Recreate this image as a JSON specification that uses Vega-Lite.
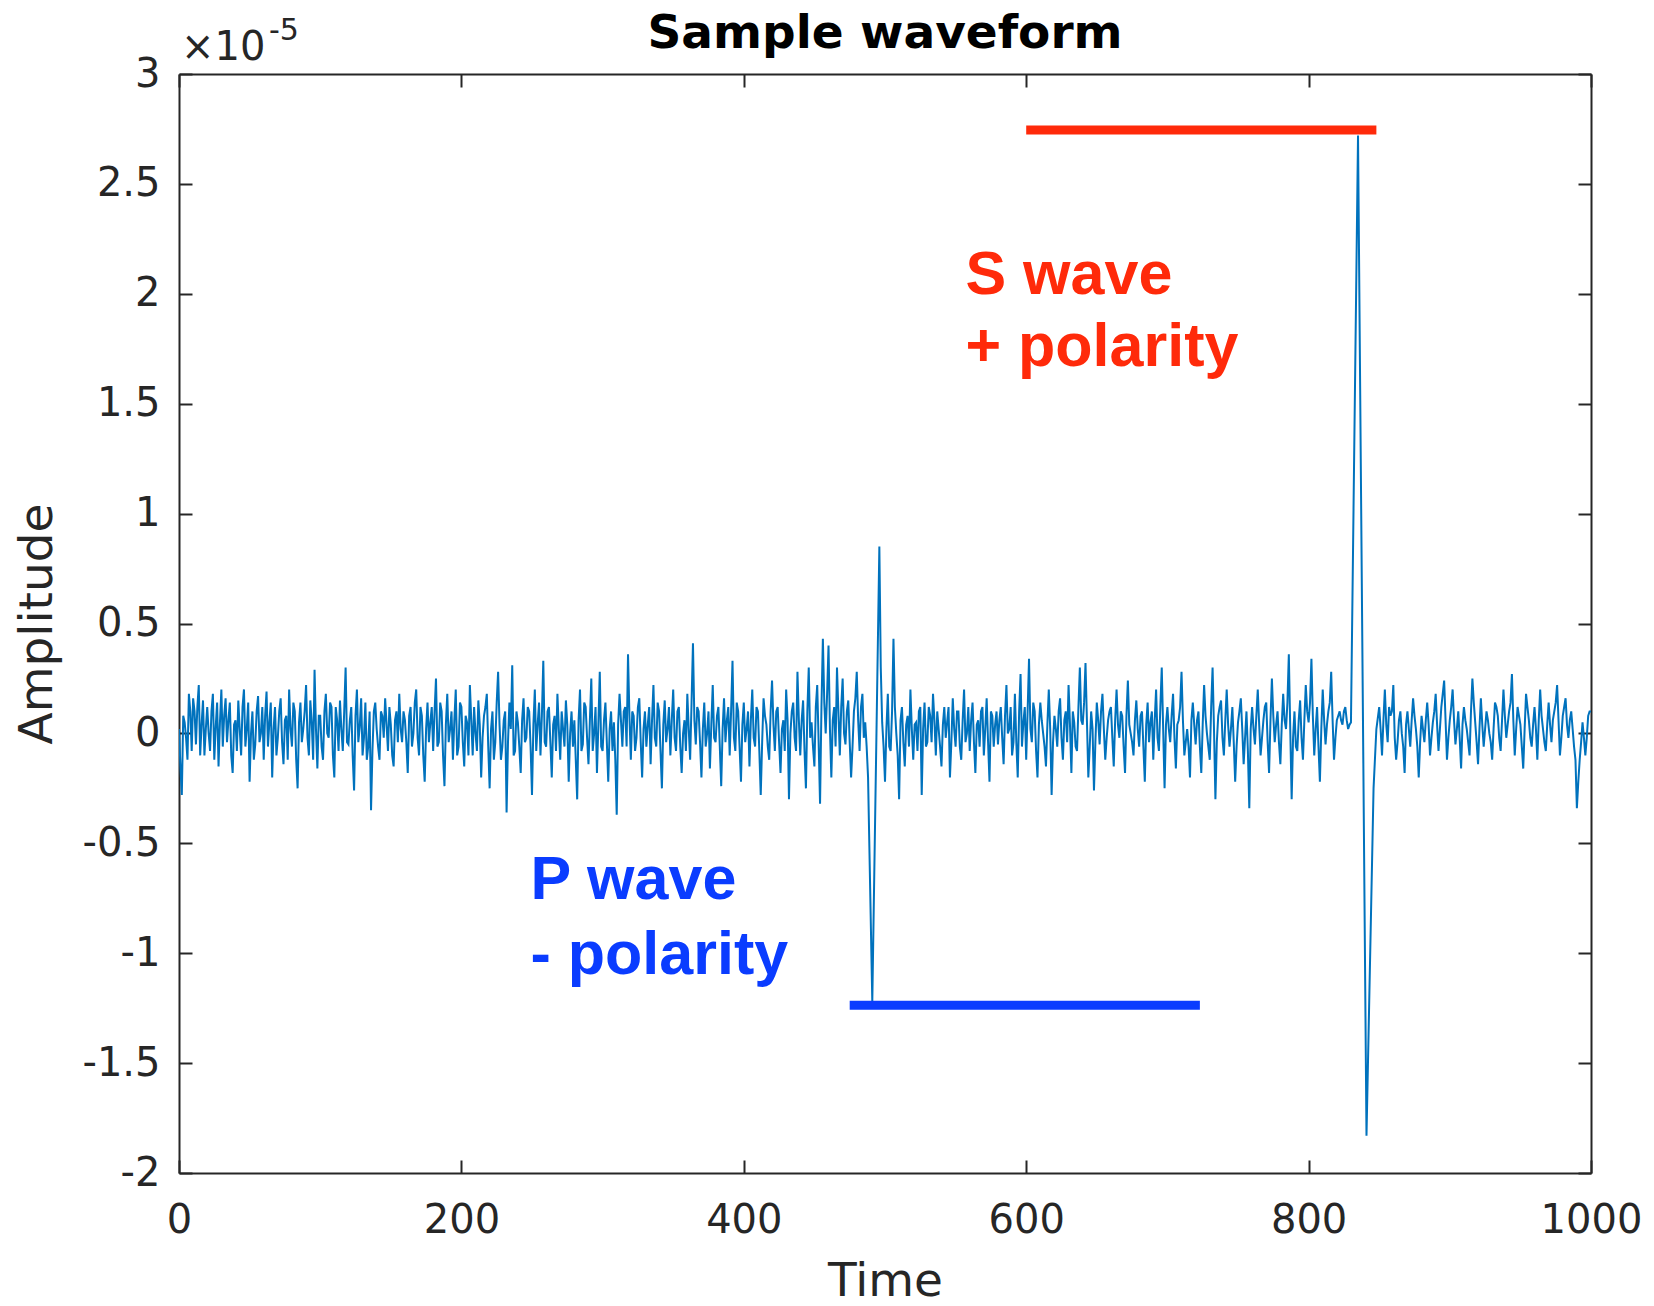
{
"$schema": "https://vega.github.io/schema/vega-lite/v6.json",
"width": 1412, "height": 1099,
"autosize": {"type": "none"},
"padding": {"left": 179, "top": 74, "right": 63, "bottom": 133},
"background": "white",
"title": {"text": "Sample waveform", "font": "DejaVu Sans", "fontSize": 47, "fontWeight": "bold", "color": "#000000", "anchor": "middle", "frame": "group", "offset": 0, "dy": 79, "baseline": "alphabetic"},
"config": {
  "view": {"stroke": null},
  "axis": {"domainColor": "#262626", "domainWidth": 2, "tickColor": "#262626", "tickWidth": 2, "tickSize": -13, "labelColor": "#262626", "labelFont": "DejaVu Sans", "labelFontSize": 40, "titleFont": "DejaVu Sans", "titleFontSize": 47, "titleColor": "#262626", "titleFontWeight": "normal", "grid": false, "labelFlush": false, "labelOverlap": false, "labelBound": false}
},
"resolve": {"axis": {"x": "independent", "y": "independent"}},
"layer": [
{
 "data": {"values": [
{"t":0,"a":0.02},{"t":1,"a":-0.15},{"t":2,"a":-0.28},{"t":3,"a":0.08},{"t":4,"a":0.05},{"t":5,"a":-0.02},{"t":6,"a":-0.12},{"t":7,"a":0.18},{"t":8,"a":0.1},{"t":9,"a":-0.08},{"t":10,"a":0.16},{"t":11,"a":0.1},{"t":12,"a":-0.05},{"t":13,"a":0.12},{"t":14,"a":0.22},{"t":15,"a":-0.1},{"t":16,"a":0.04},{"t":17,"a":0.15},{"t":18,"a":-0.1},{"t":19,"a":0.02},
{"t":20,"a":0.12},{"t":21,"a":0.0},{"t":22,"a":-0.08},{"t":23,"a":0.1},{"t":24,"a":0.18},{"t":25,"a":-0.12},{"t":26,"a":0.03},{"t":27,"a":0.14},{"t":28,"a":-0.15},{"t":29,"a":0.05},{"t":30,"a":0.2},{"t":31,"a":-0.06},{"t":32,"a":0.08},{"t":33,"a":0.16},{"t":34,"a":-0.04},{"t":35,"a":0.06},{"t":36,"a":0.14},{"t":37,"a":-0.1},{"t":38,"a":-0.18},{"t":39,"a":0.04},
{"t":40,"a":0.06},{"t":41,"a":-0.08},{"t":42,"a":0.15},{"t":43,"a":0.02},{"t":44,"a":-0.1},{"t":45,"a":0.12},{"t":46,"a":0.2},{"t":47,"a":-0.06},{"t":48,"a":0.02},{"t":49,"a":0.14},{"t":50,"a":-0.22},{"t":51,"a":0.0},{"t":52,"a":0.1},{"t":53,"a":-0.12},{"t":54,"a":-0.05},{"t":55,"a":0.1},{"t":56,"a":0.17},{"t":57,"a":-0.04},{"t":58,"a":0.0},{"t":59,"a":0.12},
{"t":60,"a":-0.12},{"t":61,"a":0.08},{"t":62,"a":0.19},{"t":63,"a":-0.06},{"t":64,"a":0.05},{"t":65,"a":0.14},{"t":66,"a":-0.2},{"t":67,"a":0.02},{"t":68,"a":0.12},{"t":69,"a":-0.1},{"t":70,"a":-0.02},{"t":71,"a":0.1},{"t":72,"a":0.16},{"t":73,"a":-0.04},{"t":74,"a":-0.14},{"t":75,"a":0.06},{"t":76,"a":0.08},{"t":77,"a":-0.12},{"t":78,"a":0.2},{"t":79,"a":0.02},
{"t":80,"a":-0.06},{"t":81,"a":0.14},{"t":82,"a":0.1},{"t":83,"a":-0.12},{"t":84,"a":-0.25},{"t":85,"a":0.05},{"t":86,"a":0.14},{"t":87,"a":-0.04},{"t":88,"a":0.02},{"t":89,"a":0.1},{"t":90,"a":0.22},{"t":91,"a":-0.02},{"t":92,"a":-0.1},{"t":93,"a":0.15},{"t":94,"a":0.05},{"t":95,"a":-0.12},{"t":96,"a":0.29},{"t":97,"a":0.02},{"t":98,"a":-0.16},{"t":99,"a":0.08},
{"t":100,"a":0.08},{"t":101,"a":-0.06},{"t":102,"a":-0.12},{"t":103,"a":0.1},{"t":104,"a":0.18},{"t":105,"a":0.0},{"t":106,"a":-0.02},{"t":107,"a":0.14},{"t":108,"a":0.12},{"t":109,"a":-0.1},{"t":110,"a":-0.2},{"t":111,"a":0.12},{"t":112,"a":0.06},{"t":113,"a":-0.08},{"t":114,"a":0.15},{"t":115,"a":0.02},{"t":116,"a":-0.08},{"t":117,"a":0.1},{"t":118,"a":0.3},{"t":119,"a":-0.04},
{"t":120,"a":-0.05},{"t":121,"a":0.06},{"t":122,"a":0.12},{"t":123,"a":-0.1},{"t":124,"a":-0.26},{"t":125,"a":0.08},{"t":126,"a":0.2},{"t":127,"a":-0.04},{"t":128,"a":0.03},{"t":129,"a":0.16},{"t":130,"a":-0.1},{"t":131,"a":-0.02},{"t":132,"a":0.14},{"t":133,"a":-0.12},{"t":134,"a":-0.06},{"t":135,"a":0.1},{"t":136,"a":-0.35},{"t":137,"a":-0.08},{"t":138,"a":0.1},{"t":139,"a":0.14},
{"t":140,"a":0.02},{"t":141,"a":-0.06},{"t":142,"a":-0.12},{"t":143,"a":0.1},{"t":144,"a":0.08},{"t":145,"a":-0.02},{"t":146,"a":0.16},{"t":147,"a":0.04},{"t":148,"a":-0.08},{"t":149,"a":0.12},{"t":150,"a":0.04},{"t":151,"a":-0.1},{"t":152,"a":-0.15},{"t":153,"a":0.06},{"t":154,"a":0.1},{"t":155,"a":-0.04},{"t":156,"a":0.18},{"t":157,"a":0.02},{"t":158,"a":-0.04},{"t":159,"a":0.1},
{"t":160,"a":0.06},{"t":161,"a":-0.04},{"t":162,"a":-0.18},{"t":163,"a":0.08},{"t":164,"a":0.12},{"t":165,"a":-0.06},{"t":166,"a":0.0},{"t":167,"a":0.14},{"t":168,"a":0.2},{"t":169,"a":-0.02},{"t":170,"a":-0.1},{"t":171,"a":0.12},{"t":172,"a":0.08},{"t":173,"a":-0.1},{"t":174,"a":-0.22},{"t":175,"a":0.02},{"t":176,"a":0.14},{"t":177,"a":-0.04},{"t":178,"a":0.05},{"t":179,"a":0.12},
{"t":180,"a":-0.08},{"t":181,"a":0.1},{"t":182,"a":0.25},{"t":183,"a":-0.06},{"t":184,"a":-0.04},{"t":185,"a":0.14},{"t":186,"a":0.1},{"t":187,"a":-0.1},{"t":188,"a":-0.24},{"t":189,"a":0.04},{"t":190,"a":0.18},{"t":191,"a":-0.04},{"t":192,"a":0.02},{"t":193,"a":0.1},{"t":194,"a":-0.12},{"t":195,"a":0.06},{"t":196,"a":0.2},{"t":197,"a":-0.1},{"t":198,"a":-0.06},{"t":199,"a":0.14},
{"t":200,"a":0.12},{"t":201,"a":-0.04},{"t":202,"a":-0.15},{"t":203,"a":0.08},{"t":204,"a":0.05},{"t":205,"a":-0.1},{"t":206,"a":0.22},{"t":207,"a":0.06},{"t":208,"a":-0.1},{"t":209,"a":0.12},{"t":210,"a":0.0},{"t":211,"a":-0.08},{"t":212,"a":0.15},{"t":213,"a":0.04},{"t":214,"a":-0.2},{"t":215,"a":-0.02},{"t":216,"a":0.08},{"t":217,"a":0.12},{"t":218,"a":0.18},{"t":219,"a":-0.06},
{"t":220,"a":-0.25},{"t":221,"a":0.02},{"t":222,"a":0.1},{"t":223,"a":-0.12},{"t":224,"a":-0.04},{"t":225,"a":0.14},{"t":226,"a":0.28},{"t":227,"a":0.04},{"t":228,"a":-0.12},{"t":229,"a":-0.06},{"t":230,"a":0.06},{"t":231,"a":0.1},{"t":232,"a":-0.36},{"t":233,"a":-0.04},{"t":234,"a":0.14},{"t":235,"a":0.02},{"t":236,"a":0.31},{"t":237,"a":-0.1},{"t":238,"a":-0.08},{"t":239,"a":0.1},
{"t":240,"a":0.05},{"t":241,"a":-0.06},{"t":242,"a":-0.18},{"t":243,"a":0.06},{"t":244,"a":0.16},{"t":245,"a":-0.04},{"t":246,"a":-0.02},{"t":247,"a":0.12},{"t":248,"a":0.1},{"t":249,"a":-0.06},{"t":250,"a":-0.28},{"t":251,"a":0.04},{"t":252,"a":0.2},{"t":253,"a":-0.08},{"t":254,"a":0.04},{"t":255,"a":0.14},{"t":256,"a":-0.1},{"t":257,"a":0.08},{"t":258,"a":0.33},{"t":259,"a":-0.04},
{"t":260,"a":-0.06},{"t":261,"a":0.1},{"t":262,"a":0.12},{"t":263,"a":-0.04},{"t":264,"a":-0.2},{"t":265,"a":0.04},{"t":266,"a":0.08},{"t":267,"a":-0.08},{"t":268,"a":0.18},{"t":269,"a":0.02},{"t":270,"a":-0.12},{"t":271,"a":0.1},{"t":272,"a":0.02},{"t":273,"a":-0.06},{"t":274,"a":0.15},{"t":275,"a":0.04},{"t":276,"a":-0.22},{"t":277,"a":0.0},{"t":278,"a":0.1},{"t":279,"a":-0.06},
{"t":280,"a":0.06},{"t":281,"a":-0.12},{"t":282,"a":-0.3},{"t":283,"a":0.06},{"t":284,"a":0.2},{"t":285,"a":-0.08},{"t":286,"a":-0.05},{"t":287,"a":0.14},{"t":288,"a":0.12},{"t":289,"a":-0.02},{"t":290,"a":-0.14},{"t":291,"a":0.06},{"t":292,"a":0.25},{"t":293,"a":-0.08},{"t":294,"a":0.0},{"t":295,"a":0.12},{"t":296,"a":-0.18},{"t":297,"a":0.04},{"t":298,"a":0.28},{"t":299,"a":-0.06},
{"t":300,"a":-0.08},{"t":301,"a":0.06},{"t":302,"a":0.14},{"t":303,"a":-0.04},{"t":304,"a":-0.22},{"t":305,"a":0.02},{"t":306,"a":0.1},{"t":307,"a":-0.08},{"t":308,"a":0.05},{"t":309,"a":-0.12},{"t":310,"a":-0.37},{"t":311,"a":0.04},{"t":312,"a":0.18},{"t":313,"a":0.06},{"t":314,"a":-0.06},{"t":315,"a":0.1},{"t":316,"a":0.12},{"t":317,"a":-0.06},{"t":318,"a":0.36},{"t":319,"a":0.08},
{"t":320,"a":-0.12},{"t":321,"a":0.1},{"t":322,"a":0.08},{"t":323,"a":-0.08},{"t":324,"a":-0.02},{"t":325,"a":0.12},{"t":326,"a":0.16},{"t":327,"a":-0.04},{"t":328,"a":-0.2},{"t":329,"a":0.02},{"t":330,"a":0.1},{"t":331,"a":-0.06},{"t":332,"a":0.04},{"t":333,"a":0.12},{"t":334,"a":-0.14},{"t":335,"a":0.06},{"t":336,"a":0.22},{"t":337,"a":-0.02},{"t":338,"a":-0.06},{"t":339,"a":0.14},
{"t":340,"a":0.1},{"t":341,"a":-0.08},{"t":342,"a":-0.25},{"t":343,"a":0.04},{"t":344,"a":0.15},{"t":345,"a":-0.04},{"t":346,"a":0.02},{"t":347,"a":0.12},{"t":348,"a":-0.1},{"t":349,"a":0.06},{"t":350,"a":0.2},{"t":351,"a":-0.02},{"t":352,"a":-0.08},{"t":353,"a":0.1},{"t":354,"a":0.12},{"t":355,"a":-0.06},{"t":356,"a":-0.18},{"t":357,"a":0.0},{"t":358,"a":0.06},{"t":359,"a":-0.08},
{"t":360,"a":0.18},{"t":361,"a":0.02},{"t":362,"a":-0.12},{"t":363,"a":0.14},{"t":364,"a":0.41},{"t":365,"a":0.06},{"t":366,"a":-0.05},{"t":367,"a":0.12},{"t":368,"a":0.1},{"t":369,"a":-0.04},{"t":370,"a":-0.2},{"t":371,"a":0.02},{"t":372,"a":0.14},{"t":373,"a":-0.06},{"t":374,"a":0.0},{"t":375,"a":0.1},{"t":376,"a":-0.16},{"t":377,"a":0.04},{"t":378,"a":0.22},{"t":379,"a":-0.02},
{"t":380,"a":-0.04},{"t":381,"a":0.08},{"t":382,"a":0.12},{"t":383,"a":-0.06},{"t":384,"a":-0.24},{"t":385,"a":0.02},{"t":386,"a":0.16},{"t":387,"a":-0.04},{"t":388,"a":0.06},{"t":389,"a":0.12},{"t":390,"a":-0.1},{"t":391,"a":0.1},{"t":392,"a":0.33},{"t":393,"a":-0.02},{"t":394,"a":-0.08},{"t":395,"a":0.14},{"t":396,"a":0.1},{"t":397,"a":-0.06},{"t":398,"a":-0.22},{"t":399,"a":0.04},
{"t":400,"a":0.14},{"t":401,"a":-0.04},{"t":402,"a":0.02},{"t":403,"a":0.1},{"t":404,"a":-0.15},{"t":405,"a":0.06},{"t":406,"a":0.2},{"t":407,"a":-0.02},{"t":408,"a":-0.06},{"t":409,"a":0.12},{"t":410,"a":0.1},{"t":411,"a":-0.08},{"t":412,"a":-0.28},{"t":413,"a":-0.04},{"t":414,"a":0.16},{"t":415,"a":0.08},{"t":416,"a":0.04},{"t":417,"a":-0.06},{"t":418,"a":-0.12},{"t":419,"a":0.1},
{"t":420,"a":0.24},{"t":421,"a":0.04},{"t":422,"a":-0.08},{"t":423,"a":0.1},{"t":424,"a":0.12},{"t":425,"a":-0.04},{"t":426,"a":-0.18},{"t":427,"a":0.02},{"t":428,"a":0.06},{"t":429,"a":-0.08},{"t":430,"a":0.2},{"t":431,"a":0.06},{"t":432,"a":-0.3},{"t":433,"a":0.0},{"t":434,"a":0.1},{"t":435,"a":0.14},{"t":436,"a":-0.02},{"t":437,"a":-0.08},{"t":438,"a":0.28},{"t":439,"a":0.06},
{"t":440,"a":-0.1},{"t":441,"a":0.06},{"t":442,"a":0.15},{"t":443,"a":-0.08},{"t":444,"a":-0.25},{"t":445,"a":0.1},{"t":446,"a":0.3},{"t":447,"a":-0.02},{"t":448,"a":0.05},{"t":449,"a":-0.06},{"t":450,"a":-0.15},{"t":451,"a":0.12},{"t":452,"a":0.22},{"t":453,"a":-0.04},{"t":454,"a":-0.32},{"t":455,"a":0.12},{"t":456,"a":0.43},{"t":457,"a":0.14},{"t":458,"a":0.0},{"t":459,"a":0.18},
{"t":460,"a":0.4},{"t":461,"a":0.02},{"t":462,"a":-0.2},{"t":463,"a":0.06},{"t":464,"a":0.12},{"t":465,"a":-0.06},{"t":466,"a":0.3},{"t":467,"a":0.1},{"t":468,"a":-0.1},{"t":469,"a":0.12},{"t":470,"a":0.25},{"t":471,"a":0.0},{"t":472,"a":-0.05},{"t":473,"a":0.1},{"t":474,"a":0.15},{"t":475,"a":-0.04},{"t":476,"a":-0.2},{"t":477,"a":-0.06},{"t":478,"a":0.1},{"t":479,"a":0.16},
{"t":480,"a":0.28},{"t":481,"a":0.06},{"t":482,"a":-0.08},{"t":483,"a":0.12},{"t":484,"a":0.18},{"t":485,"a":-0.02},{"t":486,"a":0.05},{"t":487,"a":-0.06},{"t":488,"a":-0.2},{"t":491,"a":-1.22},{"t":496,"a":0.85},{"t":497,"a":0.3},{"t":498,"a":0.05},{"t":499,"a":-0.06},
{"t":500,"a":-0.22},{"t":501,"a":0.02},{"t":502,"a":0.18},{"t":503,"a":-0.06},{"t":504,"a":-0.08},{"t":505,"a":0.1},{"t":506,"a":0.43},{"t":507,"a":0.12},{"t":508,"a":0.0},{"t":509,"a":-0.1},{"t":510,"a":-0.3},{"t":511,"a":0.06},{"t":512,"a":0.12},{"t":513,"a":-0.04},{"t":514,"a":-0.15},{"t":515,"a":0.04},{"t":516,"a":0.08},{"t":517,"a":-0.06},{"t":518,"a":0.2},{"t":519,"a":0.02},
{"t":520,"a":-0.12},{"t":521,"a":0.04},{"t":522,"a":0.05},{"t":523,"a":-0.08},{"t":524,"a":0.1},{"t":525,"a":0.12},{"t":526,"a":-0.28},{"t":527,"a":0.02},{"t":528,"a":0.14},{"t":529,"a":-0.06},{"t":530,"a":-0.04},{"t":531,"a":0.12},{"t":532,"a":0.08},{"t":533,"a":-0.04},{"t":534,"a":0.18},{"t":535,"a":0.06},{"t":536,"a":-0.1},{"t":537,"a":0.1},{"t":538,"a":0.02},{"t":539,"a":-0.06},
{"t":540,"a":-0.15},{"t":541,"a":0.04},{"t":542,"a":0.12},{"t":543,"a":-0.02},{"t":544,"a":0.05},{"t":545,"a":0.12},{"t":546,"a":-0.2},{"t":547,"a":-0.04},{"t":548,"a":0.16},{"t":549,"a":0.02},{"t":550,"a":-0.06},{"t":551,"a":0.1},{"t":552,"a":0.1},{"t":553,"a":-0.06},{"t":554,"a":-0.12},{"t":555,"a":0.06},{"t":556,"a":0.2},{"t":557,"a":-0.04},{"t":558,"a":0.0},{"t":559,"a":0.12},
{"t":560,"a":-0.08},{"t":561,"a":0.06},{"t":562,"a":0.14},{"t":563,"a":-0.04},{"t":564,"a":-0.18},{"t":565,"a":0.04},{"t":566,"a":0.06},{"t":567,"a":-0.06},{"t":568,"a":0.1},{"t":569,"a":0.12},{"t":570,"a":-0.1},{"t":571,"a":0.02},{"t":572,"a":0.16},{"t":573,"a":-0.04},{"t":574,"a":-0.22},{"t":575,"a":0.1},{"t":576,"a":0.08},{"t":577,"a":-0.06},{"t":578,"a":0.04},{"t":579,"a":0.1},
{"t":580,"a":-0.05},{"t":581,"a":0.06},{"t":582,"a":0.12},{"t":583,"a":-0.02},{"t":584,"a":-0.14},{"t":585,"a":0.08},{"t":586,"a":0.22},{"t":587,"a":0.0},{"t":588,"a":0.02},{"t":589,"a":0.12},{"t":590,"a":-0.1},{"t":591,"a":-0.04},{"t":592,"a":0.18},{"t":593,"a":-0.04},{"t":594,"a":-0.2},{"t":595,"a":0.1},{"t":596,"a":0.27},{"t":597,"a":-0.06},{"t":598,"a":0.05},{"t":599,"a":0.12},
{"t":600,"a":-0.12},{"t":601,"a":0.1},{"t":602,"a":0.34},{"t":603,"a":0.02},{"t":604,"a":-0.04},{"t":605,"a":0.14},{"t":606,"a":0.1},{"t":607,"a":-0.08},{"t":608,"a":-0.2},{"t":609,"a":0.04},{"t":610,"a":0.14},{"t":611,"a":0.06},{"t":612,"a":0.0},{"t":613,"a":-0.06},{"t":614,"a":-0.15},{"t":615,"a":0.04},{"t":616,"a":0.2},{"t":617,"a":0.02},{"t":618,"a":-0.28},{"t":619,"a":-0.04},
{"t":620,"a":0.08},{"t":621,"a":0.02},{"t":622,"a":-0.06},{"t":623,"a":0.1},{"t":624,"a":0.16},{"t":625,"a":-0.02},{"t":626,"a":-0.12},{"t":627,"a":0.06},{"t":628,"a":0.1},{"t":629,"a":-0.04},{"t":630,"a":0.22},{"t":631,"a":0.04},{"t":632,"a":-0.18},{"t":633,"a":0.1},{"t":634,"a":0.05},{"t":635,"a":-0.06},{"t":636,"a":-0.08},{"t":637,"a":0.12},{"t":638,"a":0.3},{"t":639,"a":0.06},
{"t":640,"a":0.04},{"t":641,"a":0.14},{"t":642,"a":0.32},{"t":643,"a":0.06},{"t":644,"a":-0.2},{"t":645,"a":-0.06},{"t":646,"a":0.1},{"t":647,"a":0.02},{"t":648,"a":-0.26},{"t":649,"a":-0.04},{"t":650,"a":0.14},{"t":651,"a":0.06},{"t":652,"a":-0.05},{"t":653,"a":0.1},{"t":654,"a":0.18},{"t":655,"a":0.02},{"t":656,"a":-0.12},{"t":657,"a":-0.02},{"t":658,"a":0.06},{"t":659,"a":0.1},
{"t":660,"a":0.12},{"t":661,"a":-0.02},{"t":662,"a":-0.15},{"t":663,"a":0.06},{"t":664,"a":0.2},{"t":665,"a":0.04},{"t":666,"a":-0.02},{"t":667,"a":0.1},{"t":668,"a":0.08},{"t":669,"a":-0.06},{"t":670,"a":-0.18},{"t":671,"a":0.08},{"t":672,"a":0.24},{"t":673,"a":0.04},{"t":674,"a":0.0},{"t":675,"a":-0.04},{"t":676,"a":-0.1},{"t":677,"a":0.06},{"t":678,"a":0.15},{"t":679,"a":0.02},
{"t":680,"a":-0.06},{"t":681,"a":0.08},{"t":682,"a":0.1},{"t":683,"a":-0.06},{"t":684,"a":-0.22},{"t":685,"a":0.04},{"t":686,"a":0.14},{"t":687,"a":-0.04},{"t":688,"a":0.05},{"t":689,"a":0.1},{"t":690,"a":-0.12},{"t":691,"a":0.06},{"t":692,"a":0.2},{"t":693,"a":-0.02},{"t":694,"a":-0.08},{"t":695,"a":0.12},{"t":696,"a":0.3},{"t":697,"a":0.02},{"t":698,"a":-0.25},{"t":699,"a":0.04},
{"t":700,"a":0.12},{"t":701,"a":0.02},{"t":702,"a":-0.04},{"t":703,"a":0.08},{"t":704,"a":0.18},{"t":705,"a":-0.02},{"t":706,"a":-0.16},{"t":707,"a":0.04},{"t":708,"a":0.06},{"t":709,"a":0.12},{"t":710,"a":0.28},{"t":711,"a":0.06},{"t":712,"a":-0.1},{"t":713,"a":-0.04},{"t":714,"a":0.02},{"t":715,"a":-0.06},{"t":716,"a":-0.2},{"t":717,"a":0.06},{"t":718,"a":0.14},{"t":719,"a":0.04},
{"t":720,"a":-0.05},{"t":721,"a":0.06},{"t":722,"a":0.1},{"t":723,"a":-0.06},{"t":724,"a":-0.18},{"t":725,"a":0.04},{"t":726,"a":0.22},{"t":727,"a":0.08},{"t":728,"a":0.0},{"t":729,"a":-0.06},{"t":730,"a":-0.12},{"t":731,"a":0.12},{"t":732,"a":0.3},{"t":733,"a":0.02},{"t":734,"a":-0.3},{"t":735,"a":-0.04},{"t":736,"a":0.08},{"t":737,"a":0.12},{"t":738,"a":0.15},{"t":739,"a":-0.02},
{"t":740,"a":-0.1},{"t":741,"a":0.06},{"t":742,"a":0.2},{"t":743,"a":0.04},{"t":744,"a":-0.06},{"t":745,"a":0.02},{"t":746,"a":0.12},{"t":747,"a":-0.04},{"t":748,"a":-0.22},{"t":749,"a":-0.06},{"t":750,"a":0.05},{"t":751,"a":0.1},{"t":752,"a":0.16},{"t":753,"a":0.02},{"t":754,"a":-0.14},{"t":755,"a":-0.02},{"t":756,"a":0.1},{"t":757,"a":-0.08},{"t":758,"a":-0.34},{"t":759,"a":0.02},
{"t":760,"a":0.12},{"t":761,"a":0.02},{"t":762,"a":-0.05},{"t":763,"a":0.08},{"t":764,"a":0.2},{"t":765,"a":0.04},{"t":766,"a":-0.1},{"t":767,"a":-0.02},{"t":768,"a":0.06},{"t":769,"a":0.12},{"t":770,"a":0.14},{"t":771,"a":-0.04},{"t":772,"a":-0.18},{"t":773,"a":0.06},{"t":774,"a":0.25},{"t":775,"a":0.08},{"t":776,"a":-0.04},{"t":777,"a":0.04},{"t":778,"a":0.1},{"t":779,"a":-0.04},
{"t":780,"a":-0.14},{"t":781,"a":0.04},{"t":782,"a":0.18},{"t":783,"a":0.06},{"t":784,"a":0.02},{"t":785,"a":0.14},{"t":786,"a":0.36},{"t":787,"a":0.02},{"t":788,"a":-0.3},{"t":789,"a":-0.02},{"t":790,"a":0.1},{"t":791,"a":-0.06},{"t":792,"a":-0.08},{"t":793,"a":0.06},{"t":794,"a":0.15},{"t":795,"a":-0.02},{"t":796,"a":-0.12},{"t":797,"a":0.06},{"t":798,"a":0.22},{"t":799,"a":0.1},
{"t":800,"a":0.05},{"t":801,"a":0.14},{"t":802,"a":0.34},{"t":803,"a":0.08},{"t":804,"a":-0.1},{"t":805,"a":0.02},{"t":806,"a":0.12},{"t":807,"a":-0.06},{"t":808,"a":-0.22},{"t":809,"a":0.02},{"t":810,"a":0.2},{"t":811,"a":0.06},{"t":812,"a":-0.05},{"t":813,"a":0.04},{"t":814,"a":0.1},{"t":815,"a":0.14},{"t":816,"a":0.28},{"t":817,"a":0.06},{"t":818,"a":-0.12},{"t":819,"a":-0.02},
{"t":820,"a":0.06},{"t":821,"a":0.08},{"t":822,"a":0.1},{"t":823,"a":0.06},{"t":824,"a":0.04},{"t":825,"a":0.1},{"t":826,"a":0.12},{"t":827,"a":0.06},{"t":828,"a":0.02},{"t":829,"a":0.04},{"t":830,"a":0.05},{"t":835,"a":2.72},{"t":841,"a":-1.83},{"t":846,"a":-0.25},{"t":848,"a":0.02},
{"t":850,"a":0.12},{"t":851,"a":0.02},{"t":852,"a":-0.1},{"t":853,"a":0.06},{"t":854,"a":0.2},{"t":855,"a":0.04},{"t":856,"a":-0.04},{"t":857,"a":0.12},{"t":858,"a":0.08},{"t":859,"a":0.1},{"t":860,"a":0.22},{"t":861,"a":-0.02},{"t":862,"a":-0.12},{"t":863,"a":-0.04},{"t":864,"a":0.06},{"t":865,"a":0.1},{"t":866,"a":0.0},{"t":867,"a":-0.06},{"t":868,"a":-0.18},{"t":869,"a":0.04},
{"t":870,"a":0.1},{"t":871,"a":0.02},{"t":872,"a":-0.06},{"t":873,"a":0.06},{"t":874,"a":0.16},{"t":875,"a":0.08},{"t":876,"a":0.02},{"t":877,"a":-0.06},{"t":878,"a":-0.2},{"t":879,"a":-0.04},{"t":880,"a":0.08},{"t":881,"a":0.02},{"t":882,"a":-0.04},{"t":883,"a":0.06},{"t":884,"a":0.14},{"t":885,"a":0.04},{"t":886,"a":-0.1},{"t":887,"a":-0.02},{"t":888,"a":0.05},{"t":889,"a":0.1},
{"t":890,"a":0.18},{"t":891,"a":0.04},{"t":892,"a":-0.08},{"t":893,"a":0.02},{"t":894,"a":0.12},{"t":895,"a":0.18},{"t":896,"a":0.24},{"t":897,"a":0.06},{"t":898,"a":-0.12},{"t":899,"a":-0.02},{"t":900,"a":0.06},{"t":901,"a":0.12},{"t":902,"a":0.2},{"t":903,"a":0.06},{"t":904,"a":-0.05},{"t":905,"a":0.02},{"t":906,"a":0.1},{"t":907,"a":-0.02},{"t":908,"a":-0.16},{"t":909,"a":0.04},
{"t":910,"a":0.12},{"t":911,"a":0.06},{"t":912,"a":0.02},{"t":913,"a":-0.04},{"t":914,"a":-0.1},{"t":915,"a":0.1},{"t":916,"a":0.25},{"t":917,"a":0.14},{"t":918,"a":0.05},{"t":919,"a":-0.04},{"t":920,"a":-0.14},{"t":921,"a":0.02},{"t":922,"a":0.16},{"t":923,"a":0.04},{"t":924,"a":-0.06},{"t":925,"a":0.02},{"t":926,"a":0.1},{"t":927,"a":0.06},{"t":928,"a":0.0},{"t":929,"a":-0.04},
{"t":930,"a":-0.12},{"t":931,"a":0.02},{"t":932,"a":0.14},{"t":933,"a":0.12},{"t":934,"a":0.08},{"t":935,"a":-0.02},{"t":936,"a":-0.08},{"t":937,"a":0.06},{"t":938,"a":0.2},{"t":939,"a":0.08},{"t":940,"a":-0.02},{"t":941,"a":0.04},{"t":942,"a":0.1},{"t":943,"a":0.14},{"t":944,"a":0.27},{"t":945,"a":0.06},{"t":946,"a":-0.1},{"t":947,"a":0.02},{"t":948,"a":0.12},{"t":949,"a":0.08},
{"t":950,"a":0.04},{"t":951,"a":-0.06},{"t":952,"a":-0.16},{"t":953,"a":0.02},{"t":954,"a":0.18},{"t":955,"a":0.12},{"t":956,"a":0.06},{"t":957,"a":-0.02},{"t":958,"a":-0.06},{"t":959,"a":0.04},{"t":960,"a":0.12},{"t":961,"a":0.02},{"t":962,"a":-0.12},{"t":963,"a":0.06},{"t":964,"a":0.2},{"t":965,"a":0.08},{"t":966,"a":0.02},{"t":967,"a":-0.04},{"t":968,"a":-0.08},{"t":969,"a":0.04},
{"t":970,"a":0.14},{"t":971,"a":0.04},{"t":972,"a":-0.04},{"t":973,"a":0.06},{"t":974,"a":0.1},{"t":975,"a":0.14},{"t":976,"a":0.22},{"t":977,"a":0.06},{"t":978,"a":-0.1},{"t":979,"a":-0.02},{"t":980,"a":0.08},{"t":981,"a":0.12},{"t":982,"a":0.16},{"t":983,"a":0.04},{"t":984,"a":-0.02},{"t":985,"a":0.06},{"t":986,"a":0.1},{"t":987,"a":0.02},{"t":988,"a":-0.06},{"t":989,"a":-0.12},
{"t":990,"a":-0.34},{"t":991,"a":-0.22},{"t":992,"a":-0.12},{"t":993,"a":-0.04},{"t":994,"a":0.05},{"t":995,"a":-0.02},{"t":996,"a":-0.1},{"t":997,"a":-0.02},{"t":998,"a":0.08},{"t":999,"a":0.1},{"t":1000,"a":0.1}
 ]},
 "mark": {"type": "line", "color": "#0072BD", "strokeWidth": 2.0, "clip": true},
 "encoding": {
  "x": {"field": "t", "type": "quantitative", "scale": {"domain": [0, 1000], "nice": false, "zero": false},
        "axis": {"orient": "bottom", "values": [0, 200, 400, 600, 800, 1000], "labelExpr": "'' + datum.value", "title": "Time", "labelPadding": 40, "titlePadding": 18}},
  "y": {"field": "a", "type": "quantitative", "scale": {"domain": [-2, 3], "nice": false, "zero": false},
        "axis": {"orient": "left", "values": [-2, -1.5, -1, -0.5, 0, 0.5, 1, 1.5, 2, 2.5, 3], "labelExpr": "'' + datum.value", "title": "Amplitude", "labelPadding": 32, "titlePadding": 20}}
 }
},
{
 "data": {"values": [
  {"x1": 475, "x2": 723, "y": -1.237, "col": "#0a3cff"},
  {"x1": 600, "x2": 848, "y": 2.745, "col": "#ff2a0a"}
 ]},
 "mark": {"type": "rule", "strokeWidth": 9, "strokeCap": "butt"},
 "encoding": {
  "x": {"field": "x1", "type": "quantitative", "axis": {"orient": "top", "values": [0, 200, 400, 600, 800, 1000], "labels": false, "title": null}},
  "x2": {"field": "x2"},
  "y": {"field": "y", "type": "quantitative", "axis": {"orient": "right", "values": [-2, -1.5, -1, -0.5, 0, 0.5, 1, 1.5, 2, 2.5, 3], "labels": false, "title": null}},
  "color": {"field": "col", "type": "nominal", "scale": null}
 }
},
{
 "data": {"values": [
  {"t": 557, "a": 2.0, "label": "S wave", "col": "#ff2a0a"},
  {"t": 557, "a": 1.67, "label": "+ polarity", "col": "#ff2a0a"},
  {"t": 249, "a": -0.753, "label": "P wave", "col": "#0a3cff"},
  {"t": 249, "a": -1.095, "label": "- polarity", "col": "#0a3cff"}
 ]},
 "mark": {"type": "text", "align": "left", "baseline": "alphabetic", "font": "Liberation Sans", "fontWeight": "bold", "fontSize": 61},
 "encoding": {
  "x": {"field": "t", "type": "quantitative", "axis": null},
  "y": {"field": "a", "type": "quantitative", "axis": null},
  "text": {"field": "label"},
  "color": {"field": "col", "type": "nominal", "scale": null}
 }
},
{
 "data": {"values": [{"t": 0, "a": 3, "label": "×10"}]},
 "mark": {"type": "text", "align": "left", "baseline": "alphabetic", "font": "DejaVu Sans", "fontSize": 40, "color": "#262626", "dx": 2, "dy": -14, "clip": false},
 "encoding": {
  "x": {"field": "t", "type": "quantitative", "axis": null},
  "y": {"field": "a", "type": "quantitative", "axis": null},
  "text": {"field": "label"}
 }
},
{
 "data": {"values": [{"t": 0, "a": 3, "label": "-5"}]},
 "mark": {"type": "text", "align": "left", "baseline": "alphabetic", "font": "DejaVu Sans", "fontSize": 30, "color": "#262626", "dx": 90, "dy": -34, "clip": false},
 "encoding": {
  "x": {"field": "t", "type": "quantitative", "axis": null},
  "y": {"field": "a", "type": "quantitative", "axis": null},
  "text": {"field": "label"}
 }
}
]
}
